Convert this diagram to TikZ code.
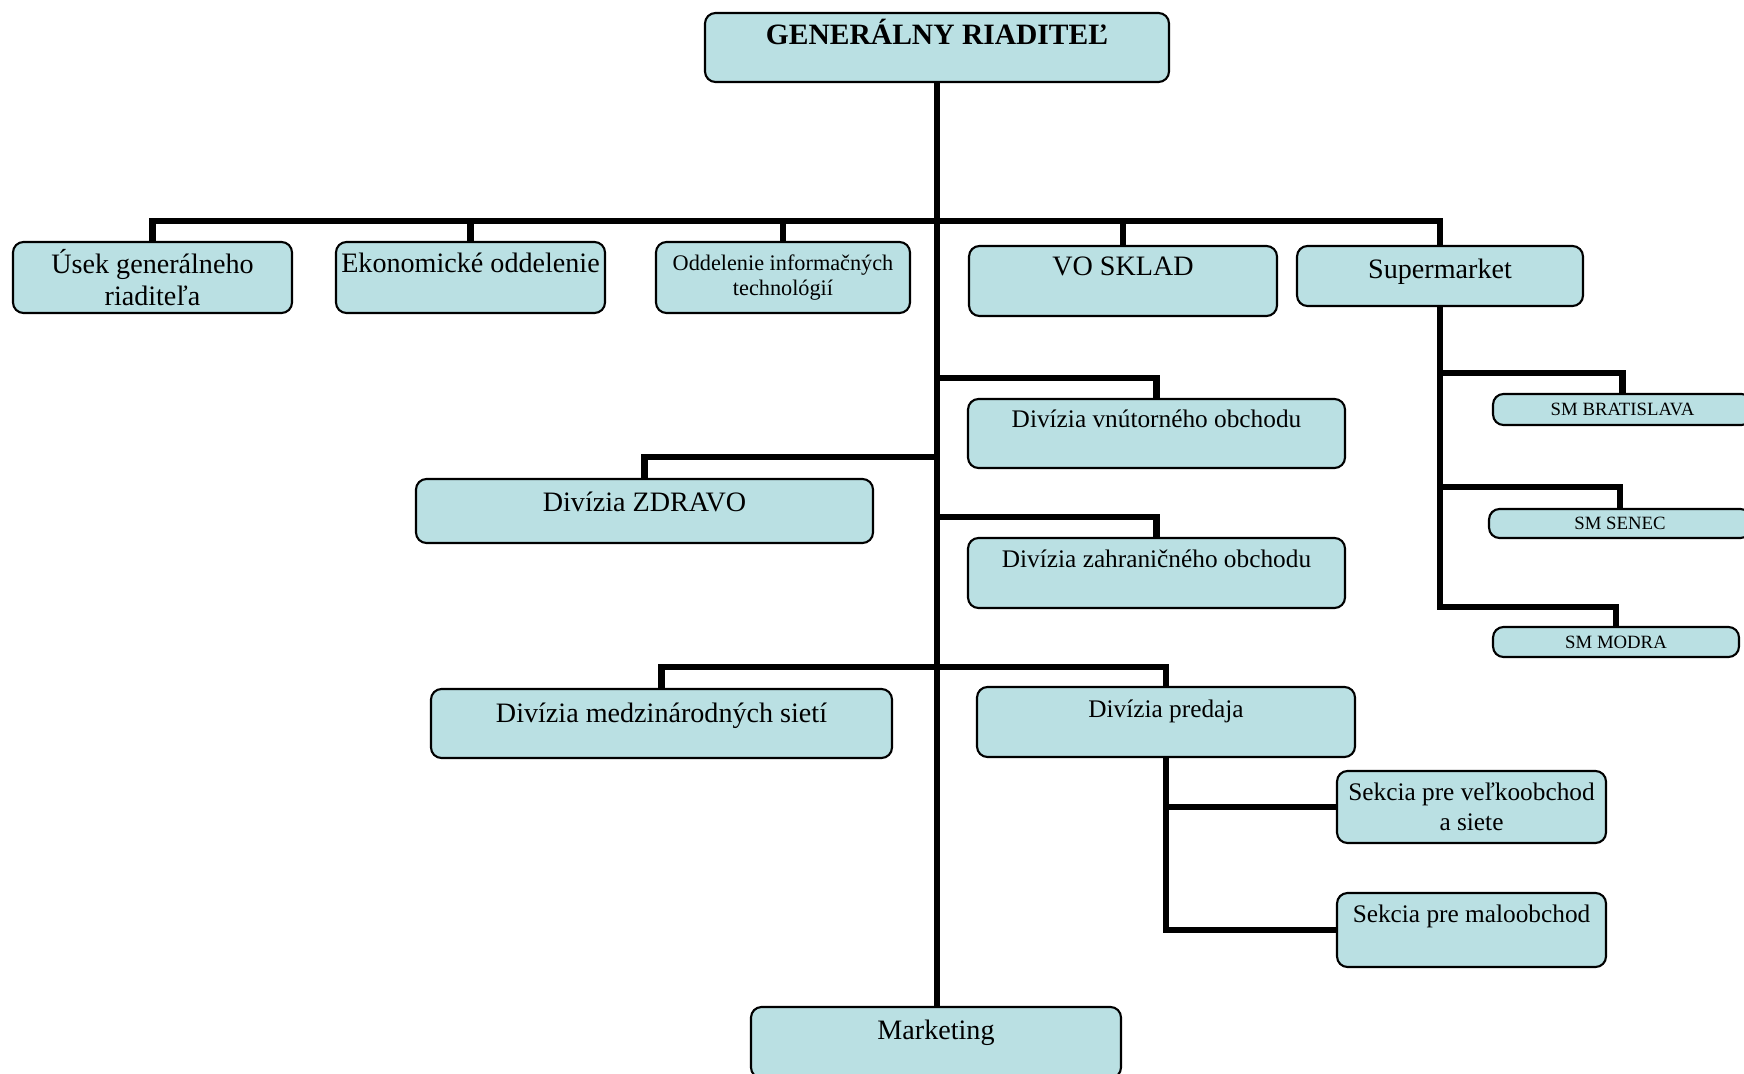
\documentclass[tikz,border=0pt]{standalone}
\usepackage{fontspec}
\setmainfont{Liberation Serif}
\definecolor{boxfill}{HTML}{BAE0E3}
\tikzset{
  orgbox/.style={draw=black, line width=0.9pt, rounded corners=4.5pt, fill=boxfill, outer sep=0pt, inner xsep=2pt, inner ysep=0pt, align=center, text=black},
  conn/.style={line width=2.8pt, draw=black, line join=miter},
  ftitle/.style={font=\fontsize{12.6}{15}\selectfont\bfseries},
  fbig/.style={font=\fontsize{12}{13.3}\selectfont},
  fmed/.style={font=\fontsize{10.8}{12.8}\selectfont},
  fsmall/.style={font=\fontsize{9.5}{11}\selectfont},
  ftiny/.style={font=\fontsize{8}{9.5}\selectfont},
}
\newcommand\orgtop[8]{%
  \pgfmathsetmacro\bxw{(#4-#2)*0.426791}%
  \pgfmathsetmacro\bxt{(#6)*0.426791}%
  \pgfmathsetmacro\bxd{(#5-#3-#6)*0.426791}%
  \node[orgbox,#7,anchor=north west,minimum width=\bxw pt,text height=\bxt pt,text depth=\bxd pt] (#1) at (#2,#3) {#8};}
\newcommand\orgmid[7]{%
  \pgfmathsetmacro\bxw{(#4-#2)*0.426791}%
  \pgfmathsetmacro\bxh{(#5-#3)*0.426791}%
  \node[orgbox,#6,minimum width=\bxw pt,minimum height=\bxh pt] (#1) at ({(#2+#4)/2},{(#3+#5)/2}) {#7};}
\begin{document}
\begin{tikzpicture}[x=0.015cm,y=-0.015cm]
\useasboundingbox (0,0) rectangle (1744,1074);
% boxes
\orgtop{gr}{705}{13}{1169}{82}{32}{ftitle}{GENERÁLNY RIADITEĽ}
\orgmid{b1}{13}{242}{292}{313}{fbig}{Úsek generálneho\\riaditeľa}
\orgtop{b2}{336}{242}{605}{313}{30}{fbig}{Ekonomické oddelenie}
\orgmid{b3}{656}{242}{910}{313}{fsmall}{Oddelenie informačných\\technológií}
\orgtop{b4}{969}{246}{1277}{316}{30}{fbig}{VO SKLAD}
\orgtop{b5}{1297}{246}{1583}{306}{32}{fbig}{Supermarket}
\orgtop{dv}{968}{399}{1345}{468}{28}{fmed}{Divízia vnútorného obchodu}
\orgtop{dz}{416}{479}{873}{543}{32}{fbig}{Divízia ZDRAVO}
\orgtop{dza}{968}{538}{1345}{608}{29}{fmed}{Divízia zahraničného obchodu}
\orgtop{dm}{431}{689}{892}{758}{33}{fbig}{Divízia medzinárodných sietí}
\orgtop{dp}{977}{687}{1355}{757}{30}{fmed}{Divízia predaja}
\orgmid{sv}{1337}{771}{1606}{843}{fmed}{Sekcia pre veľkoobchod\\a siete}
\orgtop{sm2}{1337}{893}{1606}{967}{29}{fmed}{Sekcia pre maloobchod}
\orgtop{mk}{751}{1007}{1121}{1078}{32}{fbig}{Marketing}
\orgmid{sbr}{1493}{394}{1752}{425}{ftiny}{SM BRATISLAVA}
\orgmid{sse}{1489}{509}{1751}{538}{ftiny}{SM SENEC}
\orgmid{smo}{1493}{627}{1739}{657}{ftiny}{SM MODRA}
% levels
\coordinate (ybus) at (0,221);
\coordinate (yv) at (0,378);
\coordinate (yzd) at (0,457);
\coordinate (yza) at (0,517);
\coordinate (ydv) at (0,667);
\coordinate (ys1) at (0,373);
\coordinate (ys2) at (0,487);
\coordinate (ys3) at (0,607);
% connectors
\draw[conn] (gr.south) -- (gr.south |- mk.north);
\draw[conn] (b1.north) |- (b5.north |- ybus) -- (b5.north);
\foreach \n in {b2,b3,b4} \draw[conn] (\n.north) -- (\n.north |- ybus);
\draw[conn] (gr.south |- yv) -| (dv.north);
\draw[conn] (gr.south |- yzd) -| (dz.north);
\draw[conn] (gr.south |- yza) -| (dza.north);
\draw[conn] (dm.north) |- (dp.north |- ydv) -- (dp.north);
\draw[conn] (b5.south) |- (smo.north |- ys3) -- (smo.north);
\draw[conn] (b5.south |- ys1) -| (sbr.north);
\draw[conn] (b5.south |- ys2) -| (sse.north);
\draw[conn] (dp.south) |- (sm2.west);
\draw[conn] (dp.south |- sv.west) -- (sv.west);
\end{tikzpicture}
\end{document}
